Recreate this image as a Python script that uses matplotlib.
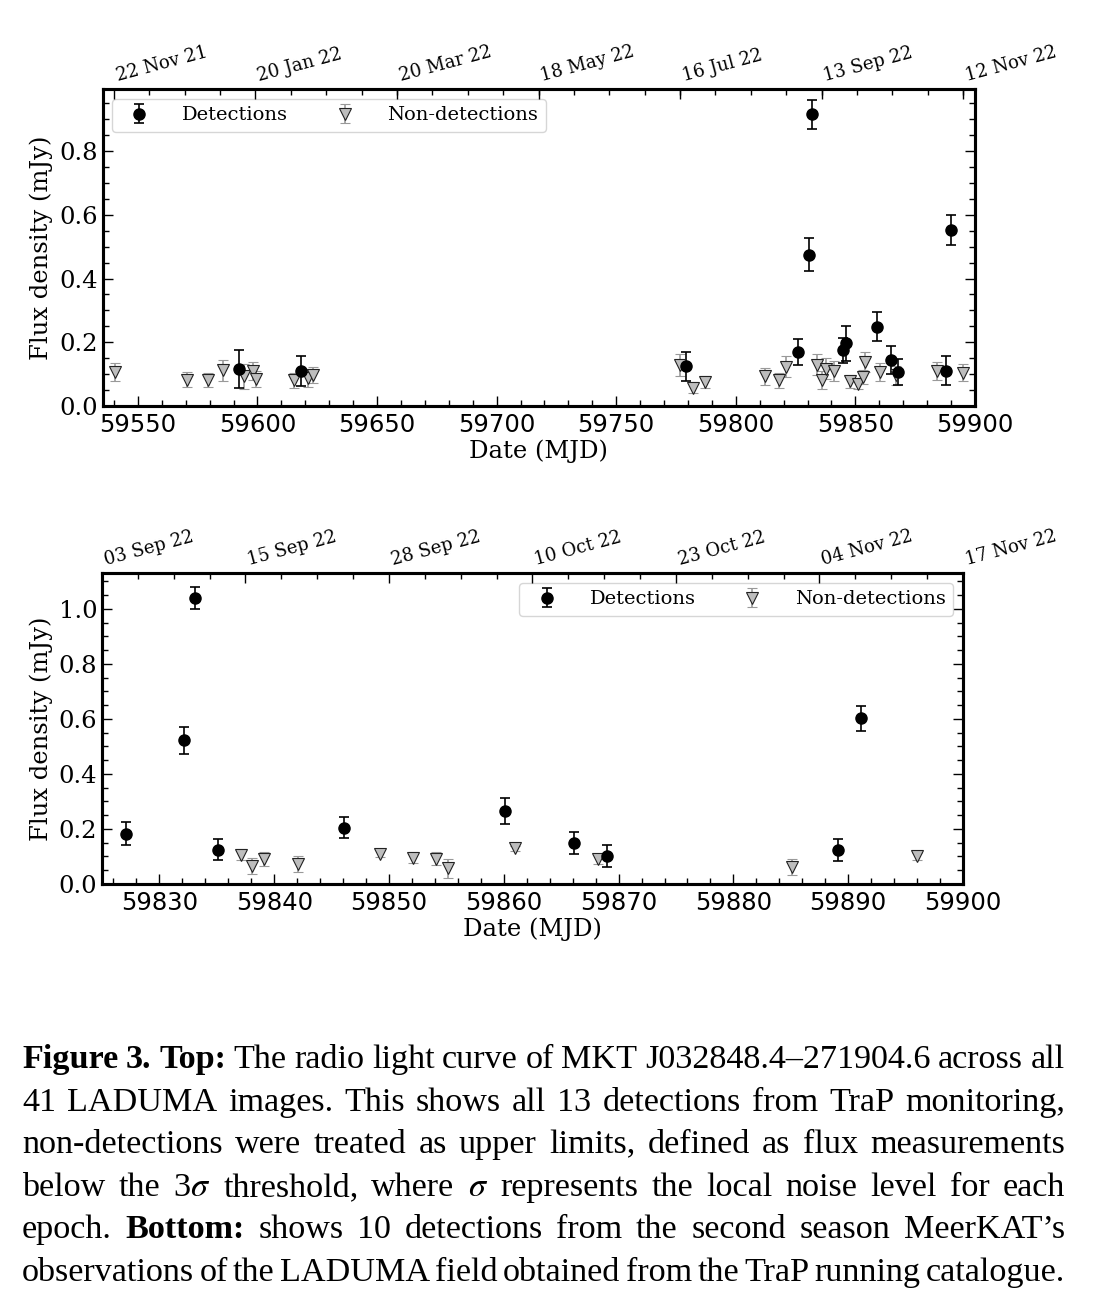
import matplotlib.pyplot as plt
from matplotlib.ticker import MultipleLocator, AutoMinorLocator
from matplotlib.transforms import IdentityTransform

plt.rcParams["font.family"] = ["DejaVu Serif"]
plt.rcParams["mathtext.fontset"] = "stix"

# ---- top panel: all LADUMA epochs ----
top_det_mjd = [59592.2, 59618.1, 59779.0, 59825.8, 59830.8, 59832.0, 59844.8,
               59845.9, 59859.0, 59865.0, 59867.8, 59887.7, 59889.8]
top_det_flux = [0.115, 0.109, 0.125, 0.169, 0.475, 0.915, 0.175,
                0.197, 0.249, 0.144, 0.106, 0.111, 0.551]
top_det_err = [0.060, 0.047, 0.045, 0.040, 0.052, 0.045, 0.040,
               0.055, 0.046, 0.045, 0.040, 0.045, 0.047]

top_non_mjd = [59540.4, 59570.4, 59579.2, 59585.4, 59594.3, 59598.2, 59599.3,
               59615.2, 59621.2, 59623.3,
               59776.8, 59782.1, 59787.0, 59812.0, 59818.0, 59821.1, 59833.9,
               59836.0, 59837.6, 59841.1, 59847.9, 59851.0, 59853.1, 59854.1,
               59860.1, 59867.1, 59884.1, 59894.9]
top_non_flux = [0.107, 0.083, 0.083, 0.112, 0.093, 0.110, 0.085,
                0.081, 0.089, 0.096,
                0.128, 0.058, 0.075, 0.093, 0.081, 0.123, 0.130,
                0.081, 0.117, 0.110, 0.078, 0.070, 0.091, 0.138,
                0.107, 0.096, 0.110, 0.104]
top_non_err = [0.029, 0.023, 0.022, 0.032, 0.040, 0.028, 0.025,
               0.023, 0.028, 0.025,
               0.035, 0.016, 0.020, 0.026, 0.023, 0.033, 0.033,
               0.028, 0.033, 0.032, 0.020, 0.018, 0.022, 0.032,
               0.029, 0.030, 0.029, 0.027]

top_date_ticks = [59540, 59599.17, 59658.33, 59717.5, 59776.67, 59835.83, 59895]
top_date_labels = ["22 Nov 21", "20 Jan 22", "20 Mar 22", "18 May 22",
                   "16 Jul 22", "13 Sep 22", "12 Nov 22"]

# ---- bottom panel: second season ----
bot_det_mjd = [59827.1, 59832.1, 59833.1, 59835.1, 59846.1, 59860.1, 59866.1,
               59869.0, 59889.1, 59891.1]
bot_det_flux = [0.182, 0.522, 1.040, 0.124, 0.205, 0.264, 0.150,
                0.102, 0.124, 0.602]
bot_det_err = [0.042, 0.050, 0.040, 0.038, 0.039, 0.047, 0.040,
               0.040, 0.040, 0.045]

bot_non_mjd = [59837.1, 59838.1, 59839.1, 59842.1, 59849.2, 59852.1, 59854.1,
               59855.1, 59861.0, 59868.2, 59885.1, 59896.0]
bot_non_flux = [0.106, 0.066, 0.090, 0.072, 0.110, 0.096, 0.092,
                0.057, 0.129, 0.090, 0.062, 0.100]
bot_non_err = [0.020, 0.030, 0.025, 0.028, 0.012, 0.020, 0.024,
               0.035, 0.010, 0.018, 0.030, 0.012]

bot_date_ticks = [59825, 59837.5, 59850, 59862.5, 59875, 59887.5, 59900]
bot_date_labels = ["03 Sep 22", "15 Sep 22", "28 Sep 22", "10 Oct 22",
                   "23 Oct 22", "04 Nov 22", "17 Nov 22"]


def light_curve(ax, det, non, xlim, ylim, xstep, date_ticks, date_labels, legend_loc):
    nd = ax.errorbar(non[0], non[1], yerr=non[2], fmt="v", ms=9, mfc="#bdbdbd",
                     mec="#222222", mew=0.8, ecolor="#999999", elinewidth=1.2,
                     capsize=3.5, capthick=1.2, label="Non-detections")
    d = ax.errorbar(det[0], det[1], yerr=det[2], fmt="o", ms=8, color="black",
                    ecolor="black", elinewidth=1.2, capsize=3.5, capthick=1.2,
                    label="Detections")
    ax.set_xlim(*xlim)
    ax.set_ylim(*ylim)
    ax.xaxis.set_major_locator(MultipleLocator(xstep))
    ax.xaxis.set_minor_locator(AutoMinorLocator(5))
    ax.yaxis.set_major_locator(MultipleLocator(0.2))
    ax.yaxis.set_minor_locator(AutoMinorLocator(4))
    ax.tick_params(which="both", direction="in", top=False, right=True, labelsize=17.5)
    ax.tick_params(which="major", length=7, width=1)
    ax.tick_params(which="minor", length=4, width=1)
    ax.tick_params(axis="x", labelfontfamily="DejaVu Sans", pad=5)
    for s in ax.spines.values():
        s.set_linewidth(2.2)
    ax.set_xlabel("Date (MJD)", fontsize=17.5, labelpad=2)
    ax.set_ylabel("Flux density (mJy)", fontsize=17.5)
    ax.legend([d, nd], ["Detections", "Non-detections"], loc=legend_loc, ncol=2,
              fontsize=14, columnspacing=1.9, handletextpad=1.2,
              borderaxespad=0.5)

    top = ax.twiny()
    top.set_xlim(*xlim)
    top.set_xticks(date_ticks)
    top.set_xticklabels(date_labels, rotation=15, ha="left", fontsize=13)
    top.xaxis.set_minor_locator(AutoMinorLocator(4))
    top.tick_params(which="both", direction="in", pad=3)
    top.tick_params(which="major", length=7, width=1)
    top.tick_params(which="minor", length=4, width=1)
    for s in top.spines.values():
        s.set_linewidth(2.2)


W, H = 1107, 1316
fig = plt.figure(figsize=(W / 100, H / 100), dpi=100)

ax1 = fig.add_axes([102.5 / W, 1 - 406 / H, (975 - 102.5) / W, (406 - 89) / H])
light_curve(ax1, (top_det_mjd, top_det_flux, top_det_err),
            (top_non_mjd, top_non_flux, top_non_err),
            (59535.2, 59900), (0, 0.995), 50, top_date_ticks, top_date_labels,
            "upper left")

ax2 = fig.add_axes([102 / W, 1 - 884 / H, (963 - 102) / W, (884 - 573) / H])
light_curve(ax2, (bot_det_mjd, bot_det_flux, bot_det_err),
            (bot_non_mjd, bot_non_flux, bot_non_err),
            (59825, 59900), (0, 1.13), 10, bot_date_ticks, bot_date_labels,
            "upper right")

# ---- caption, justified line by line ----
B = "bold"
N = "normal"
caption_lines = [
    [("Figure", B), ("3.", B), ("Top:", B), ("The", N), ("radio", N), ("light", N),
     ("curve", N), ("of", N), ("MKT", N), ("J032848.4–271904.6", N), ("across", N), ("all", N)],
    [("41", N), ("LADUMA", N), ("images.", N), ("This", N), ("shows", N), ("all", N),
     ("13", N), ("detections", N), ("from", N), ("TraP", N), ("monitoring,", N)],
    [("non-detections", N), ("were", N), ("treated", N), ("as", N), ("upper", N),
     ("limits,", N), ("defined", N), ("as", N), ("flux", N), ("measurements", N)],
    [("below", N), ("the", N), (r"3$\sigma$", N), ("threshold,", N), ("where", N),
     (r"$\sigma$", N), ("represents", N), ("the", N), ("local", N), ("noise", N),
     ("level", N), ("for", N), ("each", N)],
    [("epoch.", N), ("Bottom:", B), ("shows", N), ("10", N), ("detections", N),
     ("from", N), ("the", N), ("second", N), ("season", N), ("MeerKAT’s", N)],
    [("observations", N), ("of", N), ("the", N), ("LADUMA", N), ("field", N),
     ("obtained", N), ("from", N), ("the", N), ("TraP", N), ("running", N),
     ("catalogue.", N)],
]
baselines = [1068, 1111, 1153, 1196, 1238, 1281]
x_left, x_right = 22, 1065

renderer = fig.canvas.get_renderer()
for tokens, yb in zip(caption_lines, baselines):
    texts = []
    for word, weight in tokens:
        t = fig.text(0, H - yb, word, fontsize=24.6, fontweight=weight,
                     family="Liberation Serif", va="baseline", ha="left",
                     transform=IdentityTransform())
        texts.append(t)
    widths = [t.get_window_extent(renderer).width for t in texts]
    gap = (x_right - x_left - sum(widths)) / (len(texts) - 1)
    x = x_left
    for t, w in zip(texts, widths):
        t.set_x(x)
        x += w + gap

fig.savefig("out.png", dpi=100)
